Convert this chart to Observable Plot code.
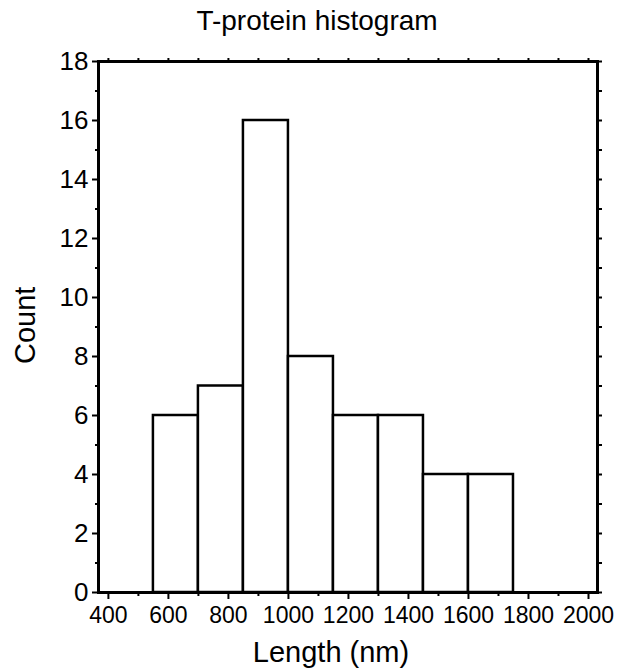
<!DOCTYPE html>
<html>
<head>
<meta charset="utf-8">
<script src="https://cdn.jsdelivr.net/npm/d3@7"></script>
<script src="https://cdn.jsdelivr.net/npm/@observablehq/plot@0.6"></script>
<style>
  html, body { margin: 0; padding: 0; background: #fff; }
  svg { display: block; }
</style>
</head>
<body>
<div id="chart"></div>
<script>
const binStarts = [550, 700, 850, 1000, 1150, 1300, 1450, 1600];
const binEnds   = [700, 850, 1000, 1150, 1300, 1450, 1600, 1750];
const counts    = [6, 7, 16, 8, 6, 6, 4, 4];
const xTickLabels = [400, 600, 800, 1000, 1200, 1400, 1600, 1800, 2000];
const xMinorTicks = [500, 700, 900, 1100, 1300, 1500, 1700, 1900];
const yTickLabels = [0, 2, 4, 6, 8, 10, 12, 14, 16, 18];
const yMinorTicks = [1, 3, 5, 7, 9, 11, 13, 15, 17];
const title = "T-protein histogram";
const xLabel = "Length (nm)";
const yLabel = "Count";

const bins = binStarts.map((s, i) => ({x1: s, x2: binEnds[i], y: counts[i]}));
const font = "'Liberation Sans', Arial, Helvetica, sans-serif";
const fmt = d => String(d);

const plot = Plot.plot({
  width: 619,
  height: 672,
  marginTop: 61,
  marginLeft: 98,
  marginRight: 22,
  marginBottom: 80,
  style: {fontFamily: font, background: "#fff", color: "#000"},
  x: {domain: [367, 2030]},
  y: {domain: [0, 18]},
  marks: [
    Plot.rectY(bins, {x1: "x1", x2: "x2", y: "y", fill: "#fff", stroke: "#000", strokeWidth: 2.5}),
    Plot.frame({stroke: "#000", strokeWidth: 3}),
    // bottom axis
    Plot.axisX({anchor: "bottom", ticks: xTickLabels, tickFormat: fmt, tickSize: 7, tickPadding: 7, fontSize: 23, strokeWidth: 2, label: null}),
    Plot.axisX({anchor: "bottom", ticks: xMinorTicks, tickSize: 4, text: null, strokeWidth: 2, label: null}),
    // top axis
    Plot.axisX({anchor: "top", ticks: xTickLabels.concat(xMinorTicks), tickSize: 4, text: null, strokeWidth: 2, label: null}),
    // left axis
    Plot.axisY({anchor: "left", ticks: yTickLabels, tickFormat: fmt, tickSize: 6, tickPadding: 4, fontSize: 26, strokeWidth: 2, label: null}),
    Plot.axisY({anchor: "left", ticks: yMinorTicks, tickSize: 3, text: null, strokeWidth: 2, label: null}),
    // right axis
    Plot.axisY({anchor: "right", ticks: yTickLabels.concat(yMinorTicks), tickSize: 4, text: null, strokeWidth: 2, label: null}),
    // labels
    Plot.text([title], {frameAnchor: "top", lineAnchor: "bottom", dy: -32, dx: -31, text: d => d, fontSize: 28, fill: "#000"}),
    Plot.text([xLabel], {frameAnchor: "bottom", lineAnchor: "bottom", dy: 69, dx: -17, text: d => d, fontSize: 29, fill: "#000"}),
    Plot.text([yLabel], {frameAnchor: "left", lineAnchor: "bottom", dx: -64, dy: 37, rotate: -90, text: d => d, fontSize: 29, fill: "#000"})
  ]
});
document.getElementById("chart").appendChild(plot);
</script>
</body>
</html>
